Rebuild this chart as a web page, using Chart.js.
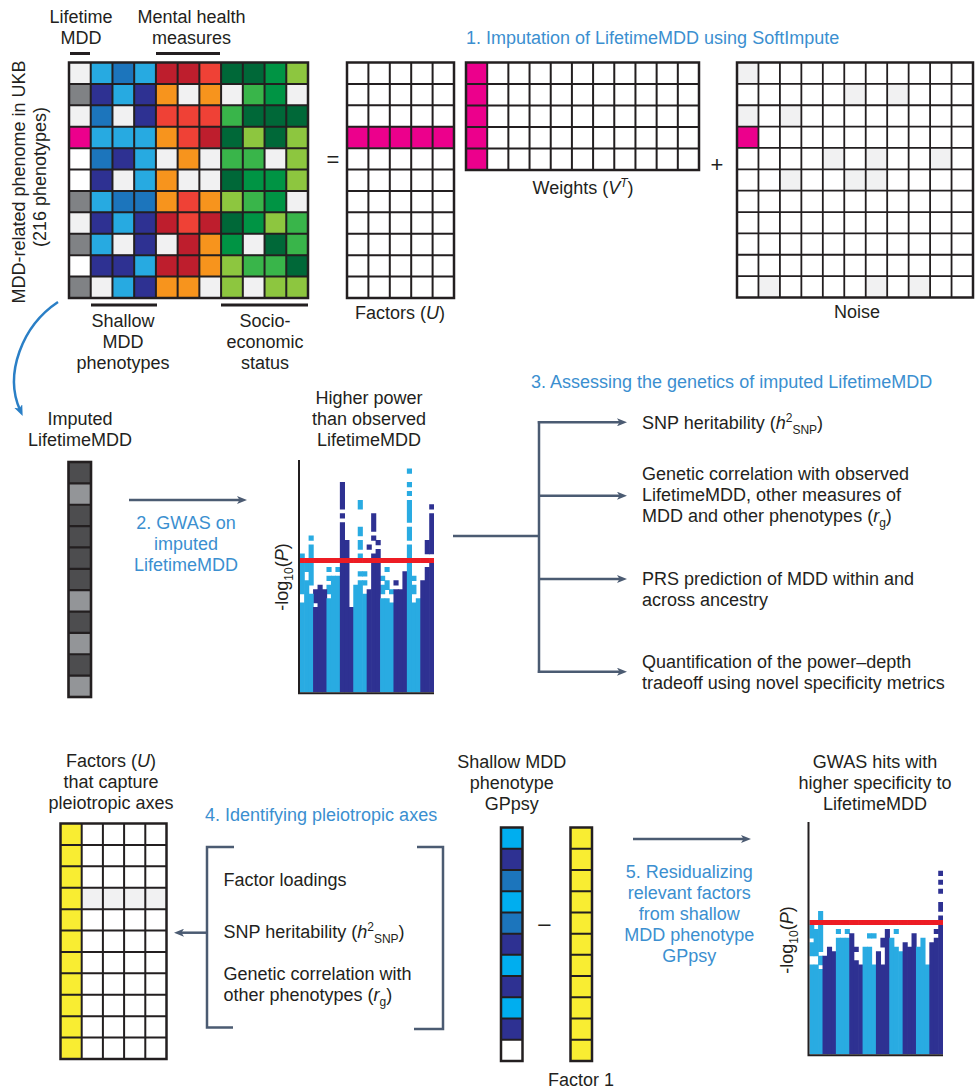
<!DOCTYPE html>
<html>
<head>
<meta charset="utf-8">
<script src="https://cdn.jsdelivr.net/npm/chart.js@4.4.1/dist/chart.umd.min.js"></script>
<style>
  html, body { margin: 0; padding: 0; background: #fff; }
  #fig { position: relative; width: 975px; height: 1090px; overflow: hidden;
         font-family: "Liberation Sans", Arial, sans-serif; font-size: 18px; line-height: 21px; color: #231f20; }
  #fig canvas { position: absolute; }
  .t { position: absolute; white-space: nowrap; }
  .c { transform: translateX(-50%); text-align: center; }
  .rot { transform: translate(-50%, -50%) rotate(-90deg); }
  .blue { color: #3b8fd0; }
  .op { font-size: 22px; line-height: 22px; }
  .sp { font-size: 12px; position: relative; top: -7px; }
  .sb { font-size: 12px; position: relative; top: 5px; }
  #links { position: absolute; left: 0; top: 0; }
</style>
</head>
<body>
<div id="fig">
  <svg id="links" width="975" height="1090" viewBox="0 0 975 1090">
    <defs>
      <marker id="head" viewBox="0 0 10 8" refX="4" refY="4" markerWidth="10" markerHeight="8" markerUnits="userSpaceOnUse" orient="auto">
        <path d="M0,0 L10,4 L0,8 L2.5,4 Z" fill="#4b5b72"/>
      </marker>
      <marker id="headBlue" viewBox="0 0 10 8" refX="4" refY="4" markerWidth="11" markerHeight="9" markerUnits="userSpaceOnUse" orient="auto">
        <path d="M0,0 L10,4 L0,8 L2.5,4 Z" fill="#2a7fc6"/>
      </marker>
    </defs>
    <g stroke="#231f20" stroke-width="3" fill="none">
      <line x1="70" y1="53.5" x2="90" y2="53.5"/>
      <line x1="156" y1="53.5" x2="220" y2="53.5"/>
      <line x1="91" y1="305" x2="157" y2="305"/>
      <line x1="221" y1="305" x2="308" y2="305"/>
    </g>
    <g stroke="#4b5b72" stroke-width="2.5" fill="none">
      <line x1="129" y1="500" x2="241" y2="500" marker-end="url(#head)"/>
      <line x1="453" y1="536" x2="539" y2="536"/>
      <line x1="539" y1="421" x2="539" y2="673"/>
      <line x1="537.8" y1="422.3" x2="621" y2="422.3" marker-end="url(#head)"/>
      <line x1="539" y1="495.7" x2="621" y2="495.7" marker-end="url(#head)"/>
      <line x1="539" y1="579" x2="621" y2="579" marker-end="url(#head)"/>
      <line x1="537.8" y1="671.7" x2="621" y2="671.7" marker-end="url(#head)"/>
      <line x1="633" y1="839" x2="745" y2="839" marker-end="url(#head)"/>
      <line x1="207" y1="932.7" x2="180" y2="932.7" marker-end="url(#head)"/>
      <path d="M234,847 H207 V1027.5 H233"/>
      <path d="M417,847 H443 V1029 H414"/>
    </g>
    <path d="M58,302 C22,326 4,374 20,410" stroke="#2a7fc6" stroke-width="2.5" fill="none" marker-end="url(#headBlue)"/>
  </svg>

  <!-- panel 1 labels -->
  <div class="t c" style="left:81px;top:7px">Lifetime<br>MDD</div>
  <div class="t c" style="left:191.5px;top:7px">Mental health<br>measures</div>
  <div class="t c" style="left:123px;top:311px">Shallow<br>MDD<br>phenotypes</div>
  <div class="t c" style="left:265px;top:311px">Socio-<br>economic<br>status</div>
  <div class="t rot" style="left:19px;top:182px">MDD-related phenome in UKB</div>
  <div class="t rot" style="left:40px;top:177px">(216 phenotypes)</div>
  <div class="t blue" style="left:466px;top:27.5px">1. Imputation of LifetimeMDD using SoftImpute</div>
  <div class="t c op" style="left:333px;top:149px">=</div>
  <div class="t c" style="left:583px;top:177.5px">Weights (<i>V</i><span class="sp"><i>T</i></span>)</div>
  <div class="t c op" style="left:717px;top:154px">+</div>
  <div class="t c" style="left:400px;top:302.5px">Factors (<i>U</i>)</div>
  <div class="t c" style="left:857px;top:301.5px">Noise</div>

  <!-- panels 2 and 3 labels -->
  <div class="t c" style="left:80px;top:408.5px">Imputed<br>LifetimeMDD</div>
  <div class="t c" style="left:369px;top:388px">Higher power<br>than observed<br>LifetimeMDD</div>
  <div class="t c blue" style="left:186px;top:513px">2. GWAS on<br>imputed<br>LifetimeMDD</div>
  <div class="t rot" style="left:283px;top:577px">-log<span class="sb">10</span>(<i>P</i>)</div>
  <div class="t blue" style="left:531px;top:371.5px">3. Assessing the genetics of imputed LifetimeMDD</div>
  <div class="t" style="left:642px;top:412.5px">SNP heritability (<i>h</i><span class="sp">2</span><span class="sb">SNP</span>)</div>
  <div class="t" style="left:642px;top:463.5px">Genetic correlation with observed<br>LifetimeMDD, other measures of<br>MDD and other phenotypes (<i>r</i><span class="sb">g</span>)</div>
  <div class="t" style="left:642px;top:568.5px">PRS prediction of MDD within and<br>across ancestry</div>
  <div class="t" style="left:642px;top:652px">Quantification of the power–depth<br>tradeoff using novel specificity metrics</div>

  <!-- panels 4 and 5 labels -->
  <div class="t c" style="left:111px;top:751px">Factors (<i>U</i>)<br>that capture<br>pleiotropic axes</div>
  <div class="t blue" style="left:205px;top:804.5px">4. Identifying pleiotropic axes</div>
  <div class="t" style="left:223.5px;top:869.5px">Factor loadings</div>
  <div class="t" style="left:223.5px;top:922px">SNP heritability (<i>h</i><span class="sp">2</span><span class="sb">SNP</span>)</div>
  <div class="t" style="left:223.5px;top:964px">Genetic correlation with<br>other phenotypes (<i>r</i><span class="sb">g</span>)</div>
  <div class="t c" style="left:511.7px;top:752px">Shallow MDD<br>phenotype<br>GPpsy</div>
  <div class="t c op" style="left:544.3px;top:913px">–</div>
  <div class="t c" style="left:581px;top:1069.5px">Factor 1</div>
  <div class="t c blue" style="left:689.3px;top:862px">5. Residualizing<br>relevant factors<br>from shallow<br>MDD phenotype<br>GPpsy</div>
  <div class="t c" style="left:875px;top:752px">GWAS hits with<br>higher specificity to<br>LifetimeMDD</div>
  <div class="t rot" style="left:788px;top:940px">-log<span class="sb">10</span>(<i>P</i>)</div>
</div>

<script>
// ---- cell categories (rows listed top to bottom, columns left to right) ----
// w empty, e missing, g observed grey, m LifetimeMDD, a/b/c shallow MDD blues,
// r/s/o mental-health reds, d/f/h/k socio-economic greens, y factor yellow,
// n/q imputed greys, t GPpsy cyan
const phenomeCells = [
  'e a b a r r s d d f k',
  'g c a c o e o e h f e',
  'e b e c s s s h d d d',
  'm a a a o s r d k d k',
  'w b c a e o e h h e k',
  'w c e a o e e d f f k',
  'g a b b o s o k h f e',
  'e c a c r s r d f k h',
  'g a e c e r o f e d h',
  'w c c a r r o k h h d',
  'g e a c o o e k e k k'
];
const factorCells = [
  'w w w w w', 'w w w w w', 'w w w w w', 'm m m m m', 'w w w w w', 'w w w w w',
  'w w w w w', 'w w w w w', 'w w w w w', 'w w w w w', 'w w w w w'
];
const weightCells = [
  'm w w w w w w w w w w',
  'm w w w w w w w w w w',
  'm w w w w w w w w w w',
  'm w w w w w w w w w w',
  'm w w w w w w w w w w'
];
const noiseCells = [
  'e w w w w w w w w w w',
  'w w w w w e w e w w w',
  'e w e w w w w w w w w',
  'm w w w w w w w w w w',
  'w w w w e w e w w e w',
  'w w e w w e e w w w w',
  'w w w w w w w w w w w',
  'w w w w w w w w w w w',
  'w w w w w w w w w w w',
  'w w w w w w w w w w w',
  'w e w w w w e w e w w'
];
const imputedCells = ['n', 'q', 'n', 'n', 'n', 'n', 'q', 'n', 'q', 'n', 'q'];
const pleiotropicCells = [
  'y w w w w', 'y w w w w', 'y w w w w', 'y e e e e', 'y w w w w', 'y w w w w',
  'y w w w w', 'y w w w w', 'y w w w w', 'y w w w w', 'y w w w w'
];
const gppsyCells = ['t', 'c', 'b', 't', 'b', 'c', 't', 'c', 't', 'c', 'w'];
const factorOneCells = ['y', 'y', 'y', 'y', 'y', 'y', 'y', 'y', 'y', 'y', 'y'];

// ---- Manhattan plots: 30 SNP bins, 3 per chromosome, heights in -log10(P) cells ----
const chromosome = [1,1,1, 2,2,2, 3,3,3, 4,4,4, 5,5,5, 6,6,6, 7,7,7, 8,8,8, 9,9,9, 10,10,10];
const significanceRow = 29;
const logPMax = 52;
const gwasBase = [20,25,22, 19,24,23, 21,26,26, 38,34,19, 24,24,22, 23,31,29, 21,21,20, 23,23,27, 33,20,21, 25,28,29];
const gwasExtra = [
  [22,23,24,25,26,27,28,30], [27,28], [24,25,26,27,28,30,31,32,34],
  [20,21,22], [], [],
  [22,23,25,27], [], [27],
  [39,41,42,43,44,45,46], [], [],
  [], [24,26,30,32,33,35,36,41,42], [24,26],
  [32], [34,36,37,38,39], [30,31,33],
  [22,23,25], [23,24,27], [22],
  [24], [], [],
  [34,35,36,38,39,40,41,42,44,46,49], [22,23,25], [],
  [], [31,32,33], [31,32,33,34,35,36,37,38,39,41]
];
const specificBase = [20,20,19, 22,24,23, 26,26,26, 27,21,20, 24,24,20, 23,20,28, 26,24,23, 25,24,27, 24,26,20, 25,26,29];
const specificExtra = [
  [22,23,24,26,27,28], [22,23,24,25,26,27], [20,21,23,24,25,26,27,28,30,31],
  [], [], [],
  [27], [], [27],
  [], [23], [],
  [], [26], [26],
  [], [24,25], [],
  [], [27], [],
  [], [], [],
  [], [], [],
  [], [27], [30,32,33,36,38,40]
];

// ---- styles ----
const PALETTE = {
  w: '#ffffff', e: '#f1f1f2', g: '#808285', m: '#ec008c',
  a: '#27aae1', b: '#1c75bc', c: '#2e3192',
  r: '#be1e2d', s: '#ef4136', o: '#f7941d',
  d: '#006838', f: '#009444', h: '#39b54a', k: '#8dc63f',
  y: '#f9ed32', n: '#4d4d4f', q: '#939598', t: '#00aeef'
};
const SNP_LIGHT = '#29abe2', SNP_DARK = '#2e3192', THRESHOLD_RED = '#ed1c24';
const INK = '#231f20';

const fig = document.getElementById('fig');

// chart areas on the page: [left, top, width, height]
const BOX = {
  phenome:     [69, 62.5, 239, 235.5],
  factors:     [347, 62.5, 107, 235.5],
  weights:     [466, 62.5, 233, 107.5],
  noise:       [737, 62.5, 236, 235],
  imputed:     [68.5, 462, 22.5, 235],
  gwas:        [300, 460, 134, 232.3],
  pleiotropic: [60.5, 823.5, 106, 235.5],
  gppsy:       [501, 827.5, 21.5, 233.5],
  factorOne:   [570.5, 827.5, 21.5, 233.5],
  specific:    [809.5, 822, 133.5, 232.3]
};

function mount(box) {
  const [l, t, w, h] = box;
  const pad = 3;
  const cl = Math.floor(l - pad), ct = Math.floor(t - pad);
  const cr = Math.ceil(l + w + pad), cb = Math.ceil(t + h + pad);
  const cv = document.createElement('canvas');
  cv.width = cr - cl; cv.height = cb - ct;
  cv.style.left = cl + 'px'; cv.style.top = ct + 'px';
  cv.style.width = (cr - cl) + 'px'; cv.style.height = (cb - ct) + 'px';
  fig.appendChild(cv);
  return { canvas: cv, padding: { left: l - cl, top: t - ct, right: cr - (l + w), bottom: cb - (t + h) } };
}

// black cell borders drawn over the coloured cells
const cellGrid = {
  id: 'cellGrid',
  afterDatasetsDraw(chart, args, o) {
    const { ctx, chartArea: a, scales: { y } } = chart;
    const n = chart.data.labels.length;
    const step = a.width / n;
    ctx.save();
    ctx.strokeStyle = INK;
    ctx.lineWidth = o.lineWidth;
    ctx.beginPath();
    for (let i = 1; i < n; i++) {
      const px = a.left + i * step;
      ctx.moveTo(px, a.top); ctx.lineTo(px, a.bottom);
    }
    for (let v = y.min + 1; v < y.max; v++) {
      const py = y.getPixelForValue(v);
      ctx.moveTo(a.left, py); ctx.lineTo(a.right, py);
    }
    ctx.stroke();
    ctx.lineWidth = o.frameWidth;
    ctx.strokeRect(a.left, a.top, a.width, a.height);
    ctx.restore();
  }
};

// L-shaped axes of the Manhattan plots
const plotAxes = {
  id: 'plotAxes',
  afterDatasetsDraw(chart) {
    const { ctx, chartArea: a } = chart;
    ctx.save();
    ctx.strokeStyle = INK;
    ctx.lineWidth = 2;
    ctx.beginPath();
    ctx.moveTo(a.left - 1, a.top);
    ctx.lineTo(a.left - 1, a.bottom + 1);
    ctx.lineTo(a.right, a.bottom + 1);
    ctx.stroke();
    ctx.restore();
  }
};

const baseOptions = (padding) => ({
  responsive: false,
  animation: false,
  devicePixelRatio: 1,
  events: [],
  layout: { padding },
  plugins: { legend: { display: false }, tooltip: { enabled: false } }
});

function cellMatrix(boxName, rows, lineWidth = 2, frameWidth = 2.5) {
  const { canvas, padding } = mount(BOX[boxName]);
  const cells = rows.map(r => r.split(' '));
  const nRows = cells.length, nCols = cells[0].length;
  const datasets = [];
  for (let k = 0; k < nRows; k++) {
    const row = cells[nRows - 1 - k];
    datasets.push({
      data: row.map(() => 1),
      backgroundColor: row.map(code => PALETTE[code]),
      borderWidth: 0,
      barPercentage: 1,
      categoryPercentage: 1
    });
  }
  const options = baseOptions(padding);
  options.plugins.cellGrid = { lineWidth, frameWidth };
  options.scales = {
    x: { display: false, stacked: true },
    y: { display: false, stacked: true, min: 0, max: nRows }
  };
  return new Chart(canvas, {
    type: 'bar',
    data: { labels: cells[0].map((_, i) => i), datasets },
    options,
    plugins: [cellGrid]
  });
}

function manhattan(boxName, base, extra) {
  const { canvas, padding } = mount(BOX[boxName]);
  // filled cells of every bin, merged into vertical runs
  const runs = base.map((b, i) => {
    const filled = new Set();
    for (let r = 0; r < b; r++) filled.add(r);
    extra[i].forEach(r => filled.add(r));
    const sorted = [...filled].sort((p, q) => p - q);
    const out = [];
    for (const r of sorted) {
      const last = out[out.length - 1];
      if (last && last[1] === r) last[1] = r + 1; else out.push([r, r + 1]);
    }
    return out;
  });
  const maxRuns = Math.max(...runs.map(r => r.length));
  const colors = chromosome.map(c => (c % 2 ? SNP_LIGHT : SNP_DARK));
  const datasets = [{
    data: base.map(() => [significanceRow, significanceRow + 1]),
    backgroundColor: THRESHOLD_RED,
    order: 0
  }];
  for (let k = 0; k < maxRuns; k++) {
    datasets.push({ data: runs.map(r => r[k] || null), backgroundColor: colors, order: 1 });
  }
  datasets.forEach(ds => Object.assign(ds, { borderWidth: 0, barPercentage: 1, categoryPercentage: 1, grouped: false }));
  const options = baseOptions(padding);
  options.scales = {
    x: { display: false },
    y: { display: false, min: 0, max: logPMax }
  };
  return new Chart(canvas, {
    type: 'bar',
    data: { labels: base.map((_, i) => i), datasets },
    options,
    plugins: [plotAxes]
  });
}

cellMatrix('phenome', phenomeCells, 2, 2.5);
cellMatrix('factors', factorCells, 2, 2.5);
cellMatrix('weights', weightCells, 2, 2.5);
cellMatrix('noise', noiseCells, 1.8, 2.5);
cellMatrix('imputed', imputedCells, 2.2, 2.6);
manhattan('gwas', gwasBase, gwasExtra);
cellMatrix('pleiotropic', pleiotropicCells, 2, 2.5);
cellMatrix('gppsy', gppsyCells, 2, 2.5);
cellMatrix('factorOne', factorOneCells, 2, 2.5);
manhattan('specific', specificBase, specificExtra);
</script>
</body>
</html>
